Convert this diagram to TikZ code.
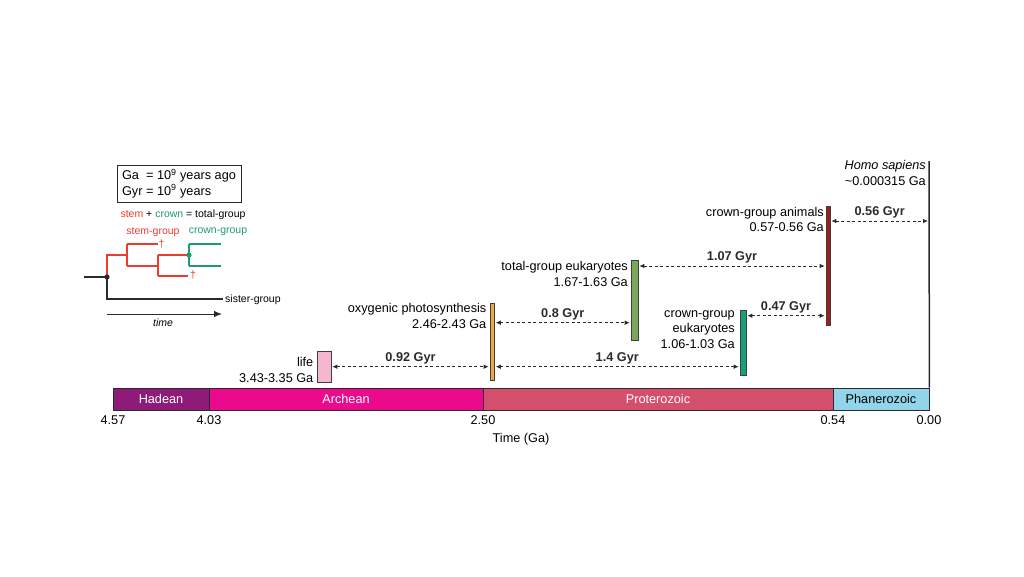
\documentclass[tikz,border=0pt]{standalone}
\usepackage{fontspec}
\setmainfont{Liberation Sans}
\usetikzlibrary{arrows.meta}
\definecolor{hadeancol}{HTML}{8E1B77}
\definecolor{archeancol}{HTML}{EC0A8C}
\definecolor{proterocol}{HTML}{D44F6B}
\definecolor{phanerocol}{HTML}{92D5EA}
\definecolor{lifecol}{HTML}{F5B6CE}
\definecolor{oxycol}{HTML}{F0A83A}
\definecolor{totalcol}{HTML}{7DA65D}
\definecolor{crowneukcol}{HTML}{17A077}
\definecolor{animalcol}{HTML}{9E1B1E}
\definecolor{stemred}{HTML}{EE3B2F}
\definecolor{crowngreen}{HTML}{1F9A6E}
\definecolor{inkgray}{HTML}{2A2A2A}
\begin{document}
\begin{tikzpicture}[x=1pt,y=-1pt,
  font=\fontsize{12.7}{15.5}\selectfont,
  erabox/.style={draw=inkgray, line width=0.8pt, minimum height=22pt, inner sep=0pt},
  evbar/.style={draw=inkgray!90, line width=0.6pt, inner sep=0pt},
  evlabel/.style={anchor=east, align=right, inner sep=0pt},
  gyr/.style={dash pattern=on 3pt off 2.5pt, line width=0.8pt, inkgray,
     {Latex[length=5pt,width=4.5pt]}-{Latex[length=5pt,width=4.5pt]}, shorten <=1pt, shorten >=1pt},
  gyrlabel/.style={midway, above=1pt, font=\fontsize{12.7}{15.5}\selectfont\bfseries, inner sep=1pt},
  tick/.style={inner sep=0pt},
  small/.style={font=\fontsize{10.5}{12.5}\selectfont, inner sep=0pt},
  tree/.style={line width=1.1pt}
]
\useasboundingbox (0,0) rectangle (1024,576);

% ---------- era bar ----------
\node[erabox, fill=hadeancol, minimum width=96pt, text=white] (hadean) at (161,399) {Hadean};
\node[erabox, fill=archeancol, minimum width=274pt, text=white] (archean) at (346,399) {Archean};
\node[erabox, fill=proterocol, minimum width=350pt, text=white] (protero) at (658,399) {Proterozoic};
\node[erabox, fill=phanerocol, minimum width=96pt] (phanero) at (881,399) {Phanerozoic};

% ---------- ticks ----------
\node[tick] (t457) at (113,420) {4.57};
\node[tick] (t403) at (209,420) {4.03};
\node[tick] (t250) at (483,420) {2.50};
\node[tick] (t054) at (833,420) {0.54};
\node[tick] (t000) at (929,420) {0.00};
\node[tick] (taxis) at (521,439) {Time (Ga)};

% ---------- Homo sapiens line ----------
\coordinate (homotop) at (929,161);
\draw[inkgray, line width=1.5pt] (homotop) -- (phanero.north east);
\node[evlabel] (lblhomo) at (926,173) {\itshape Homo sapiens\\\textasciitilde 0.000315 Ga};

% ---------- event bars ----------
\node[evbar, fill=lifecol, minimum width=14pt, minimum height=31pt] (life) at (324,366.5) {};
\node[evbar, fill=oxycol, minimum width=4.5pt, minimum height=77.5pt] (oxy) at (492.2,341.8) {};
\node[evbar, fill=totalcol, minimum width=7pt, minimum height=80pt] (total) at (634.5,300) {};
\node[evbar, fill=crowneukcol, minimum width=6pt, minimum height=65pt] (crowneuk) at (743,342.5) {};
\node[evbar, fill=animalcol, minimum width=4pt, minimum height=119pt] (animals) at (828,265.5) {};

% ---------- event labels ----------
\node[evlabel] (lbllife) at (313.5,370) {life\\3.43-3.35 Ga};
\node[evlabel] (lbloxy) at (486.5,316) {oxygenic photosynthesis\\2.46-2.43 Ga};
\node[evlabel] (lbltotal) at (628,274) {total-group eukaryotes\\1.67-1.63 Ga};
\node[evlabel] (lblcrowneuk) at (735,329.5) {crown-group\\eukaryotes\\1.06-1.03 Ga};
\node[evlabel] (lblanimals) at (824,219.5) {crown-group animals\\0.57-0.56 Ga};

% ---------- interval arrows ----------
\coordinate (y092) at (0,366.7);
\coordinate (y08) at (0,322.7);
\coordinate (y14) at (0,366.7);
\coordinate (y107) at (0,266);
\coordinate (y047) at (0,315.7);
\coordinate (y056) at (0,221);
\draw[gyr] (life.east |- y092) -- (oxy.west |- y092) node[gyrlabel] (g092) {0.92 Gyr};
\draw[gyr] (oxy.east |- y08) -- (total.west |- y08) node[gyrlabel] (g08) {0.8 Gyr};
\draw[gyr] (oxy.east |- y14) -- (crowneuk.west |- y14) node[gyrlabel] (g14) {1.4 Gyr};
\draw[gyr] (total.east |- y107) -- (animals.west |- y107) node[gyrlabel] (g107) {1.07 Gyr};
\draw[gyr] (crowneuk.east |- y047) -- (animals.west |- y047) node[gyrlabel] (g047) {0.47 Gyr};
\draw[gyr] (animals.east |- y056) -- (homotop |- y056) node[gyrlabel] (g056) {0.56 Gyr};

% ---------- legend ----------
\node[draw=inkgray, line width=0.9pt, minimum width=124pt, minimum height=37pt, align=left, inner sep=0pt] (legend) at (179,183.5)
  {\rlap{Ga}\hphantom{Gyr} = 10\textsuperscript{9} years ago\\Gyr = 10\textsuperscript{9} years};
\node[small] (defn) at (183,215) {\textcolor{stemred}{stem} + \textcolor{crowngreen}{crown} = total-group};
\node[small, text=stemred] (stemlbl) at (153,232) {stem-group};
\node[small, text=crowngreen] (crownlbl) at (218,232) {crown-group};

% ---------- tree ----------
\coordinate (rootL) at (84,277);
\coordinate (rootdot) at (107,277);
\coordinate (sisterEnd) at (223,299);
\coordinate (s1) at (127,255);
\coordinate (s1top) at (127,244);
\coordinate (s1bot) at (127,266);
\coordinate (d1end) at (158,244);
\coordinate (s2) at (158,255);
\coordinate (s2c) at (158,266);
\coordinate (s2bot) at (158,276);
\coordinate (d2end) at (188,276);
\coordinate (crowndot) at (189,255);
\coordinate (c1top) at (189,244);
\coordinate (c1bot) at (189,266);
\coordinate (c1topE) at (221,244);
\coordinate (c1botE) at (221,266);
\draw[tree, inkgray] (rootL) -- (rootdot);
\draw[tree, inkgray] (rootdot) |- (sisterEnd);
\draw[tree, stemred] (rootdot) |- (s1);
\draw[tree, stemred] (s1top) -- (s1bot);
\draw[tree, stemred] (s1top) -- (d1end);
\draw[tree, stemred] (s1bot) -- (s2c);
\draw[tree, stemred] (s2) -- (s2bot);
\draw[tree, stemred] (s2) -- (crowndot);
\draw[tree, stemred] (s2bot) -- (d2end);
\draw[tree, crowngreen] (c1top) -- (c1bot);
\draw[tree, crowngreen] (c1top) -- (c1topE);
\draw[tree, crowngreen] (c1bot) -- (c1botE);
\fill[inkgray] (rootdot) circle[radius=2.6];
\fill[crowngreen] (crowndot) circle[radius=2.6];
\node[small, text=stemred] (dag1) at (161.5,244) {\textdagger};
\node[small, text=stemred] (dag2) at (193,275) {\textdagger};
\node[small, anchor=west] (sisterlbl) at (225,299.5) {sister-group};
\coordinate (timeL) at (107,314);
\coordinate (timeR) at (222,314);
\draw[line width=1pt, inkgray, -{Latex[length=8pt,width=6.5pt]}] (timeL) -- (timeR);
\node[small] (timelbl) at (163,323) {\itshape time};
\end{tikzpicture}
\end{document}
